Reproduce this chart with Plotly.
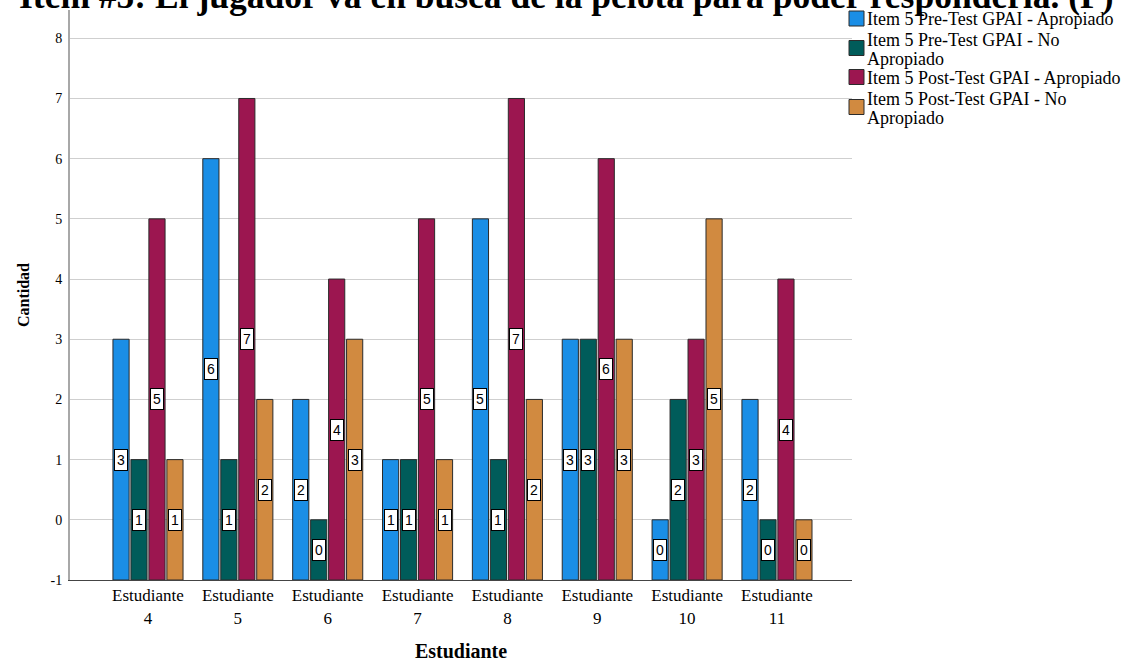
import plotly.graph_objects as go

categories = ["4", "5", "6", "7", "8", "9", "10", "11"]
tick_labels = ["Estudiante<br>" + c for c in categories]

legend_lines = [
    ["Item 5 Pre-Test GPAI - Apropiado"],
    ["Item 5 Pre-Test GPAI - No", "Apropiado"],
    ["Item 5 Post-Test GPAI - Apropiado"],
    ["Item 5 Post-Test GPAI - No", "Apropiado"],
]
series_names = [" ".join(l) for l in legend_lines]
pre_apropiado = [3, 6, 2, 1, 5, 3, 0, 2]
pre_no_apropiado = [1, 1, 0, 1, 1, 3, 2, 0]
post_apropiado = [5, 7, 4, 5, 7, 6, 3, 4]
post_no_apropiado = [1, 2, 3, 1, 2, 3, 5, 0]
series_values = [pre_apropiado, pre_no_apropiado, post_apropiado, post_no_apropiado]
colors = ["#1a8ee6", "#005c5a", "#9c1650", "#d18a40"]

BASE = -1
Y_TICKS = [-1, 0, 1, 2, 3, 4, 5, 6, 7, 8]
Y_TICK_TEXT = [str(v) for v in Y_TICKS]

TITLE = "Item #5: El jugador va en busca de la pelota para poder responderla. (P)"
X_TITLE = "Estudiante"
Y_TITLE = "Cantidad"

SERIF = "Liberation Serif, Times New Roman, serif"
SANS = "Liberation Sans, Arial, sans-serif"

# plot area geometry (pixels)
W, H = 1128, 662
L, R, T, B = 70, 852, 10, 580


def px_x(px):
    return (px - L) / (R - L)


def px_y(py):
    return (B - py) / (B - T)


fig = go.Figure()
xs = list(range(len(categories)))
for name, vals, col in zip(series_names, series_values, colors):
    fig.add_trace(go.Bar(
        x=xs, y=[v - BASE for v in vals], base=BASE, name=name,
        marker=dict(color=col, line=dict(color="#2b2b2b", width=1)),
        hoverinfo="skip", showlegend=False,
    ))

bargap = 0.2
n = len(series_values)
slot = (1 - bargap) / n
annotations = []
for j, vals in enumerate(series_values):
    off = (j - (n - 1) / 2) * slot
    for i, v in enumerate(vals):
        annotations.append(dict(
            x=i + off, y=(v + BASE) / 2, xref="x", yref="y",
            text=str(v), showarrow=False,
            font=dict(family=SANS, size=14, color="#000"),
            bgcolor="#ffffff", bordercolor="#000000", borderwidth=1, borderpad=2,
        ))

# title (cut at the top edge as in the reference)
annotations.append(dict(
    x=px_x(566), y=px_y(-4), xref="paper", yref="paper",
    xanchor="center", yanchor="middle", showarrow=False,
    text="<b>" + TITLE + "</b>",
    font=dict(family=SERIF, size=35.5, color="#000"),
))

# custom legend
shapes = []
marker_centers = [18.5, 48, 77, 107]
line_centers = [[19], [40, 59], [78], [99, 118]]
for col, mc, lines, lc in zip(colors, marker_centers, legend_lines, line_centers):
    shapes.append(dict(
        type="rect", xref="paper", yref="paper",
        x0=px_x(849), x1=px_x(864), y0=px_y(mc + 7.5), y1=px_y(mc - 7.5),
        fillcolor=col, line=dict(color="#2b2b2b", width=1),
    ))
    for txt, yc in zip(lines, lc):
        annotations.append(dict(
            x=px_x(865), y=px_y(yc), xref="paper", yref="paper",
            xanchor="left", yanchor="middle", showarrow=False,
            text=txt, font=dict(family=SERIF, size=18, color="#000"),
        ))

fig.update_layout(
    width=W, height=H,
    margin=dict(l=L, r=W - R, t=T, b=H - B, autoexpand=False),
    paper_bgcolor="white", plot_bgcolor="white",
    barmode="group", bargap=bargap, bargroupgap=0.1,
    showlegend=False, hovermode=False,
    annotations=annotations,
    shapes=shapes,
    xaxis=dict(
        tickmode="array", tickvals=xs, ticktext=tick_labels,
        range=[-0.868, 7.835], showgrid=False, zeroline=False, automargin=False,
        showline=True, linecolor="#444444", linewidth=1, ticks="",
        tickfont=dict(family=SERIF, size=17, color="#000"),
        title=dict(text="<b>" + X_TITLE + "</b>", font=dict(family=SERIF, size=20, color="#000"), standoff=29),
    ),
    yaxis=dict(
        range=[-1, 8.47], tickmode="array", tickvals=Y_TICKS, ticktext=Y_TICK_TEXT,
        automargin=False,
        showgrid=True, gridcolor="#cfcfcf", gridwidth=1, zeroline=False,
        showline=True, linecolor="#a8a8a8", linewidth=2, ticks="",
        tickfont=dict(family=SERIF, size=14, color="#000"), ticklabelstandoff=3,
        title=dict(text="<b>" + Y_TITLE + "</b>", font=dict(family=SERIF, size=16, color="#000"), standoff=17),
    ),
)

fig.write_html(
    "out.html",
    config={"displayModeBar": False, "staticPlot": True},
    post_script="document.body.style.margin='0';document.body.style.overflow='hidden';",
)
